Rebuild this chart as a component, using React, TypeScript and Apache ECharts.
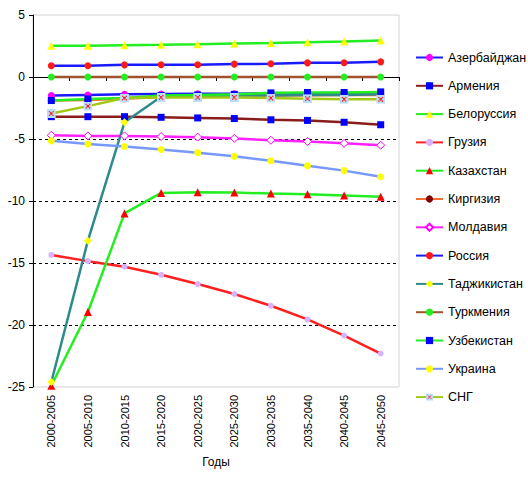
import React, { useEffect, useRef } from "react";
import * as echarts from "echarts";

const categories = [
  "2000-2005", "2005-2010", "2010-2015", "2015-2020", "2020-2025",
  "2025-2030", "2030-2035", "2035-2040", "2040-2045", "2045-2050",
];
const yTicks = { min: -25, max: 5, interval: 5 };

const azerbaijan = [-1.5, -1.45, -1.4, -1.37, -1.35, -1.35, -1.33, -1.32, -1.3, -1.3];
const armenia = [-3.2, -3.2, -3.2, -3.25, -3.3, -3.35, -3.45, -3.5, -3.65, -3.85];
const belarus = [2.52, 2.52, 2.57, 2.6, 2.64, 2.7, 2.74, 2.8, 2.87, 2.95];
const georgia = [-14.35, -14.85, -15.3, -15.95, -16.7, -17.5, -18.45, -19.55, -20.85, -22.3];
const kazakhstan = [-24.9, -18.95, -11.0, -9.35, -9.3, -9.32, -9.4, -9.45, -9.55, -9.65];
const kyrgyzstan = [-1.9, -1.85, -1.75, -1.6, -1.55, -1.5, -1.5, -1.48, -1.45, -1.45];
const moldova = [-4.7, -4.75, -4.75, -4.8, -4.85, -4.95, -5.1, -5.2, -5.35, -5.5];
const russia = [0.91, 0.91, 0.98, 0.99, 0.99, 1.04, 1.07, 1.14, 1.15, 1.22];
const tajikistan = [-24.6, -13.2, -3.65, -1.6, -1.55, -1.5, -1.5, -1.45, -1.45, -1.4];
const turkmenistan = [0, 0, 0, 0, 0, 0, 0, 0, 0, 0];
const uzbekistan = [-1.9, -1.77, -1.7, -1.5, -1.45, -1.4, -1.28, -1.25, -1.25, -1.2];
const ukraine = [-5.15, -5.4, -5.6, -5.85, -6.1, -6.4, -6.75, -7.15, -7.55, -8.05];
const cis = [-2.95, -2.35, -1.7, -1.65, -1.65, -1.65, -1.7, -1.75, -1.8, -1.8];

const FONT = '"Liberation Sans", Arial, sans-serif';

const cisSvg =
  "<svg xmlns='http://www.w3.org/2000/svg' width='16' height='16' viewBox='0 0 16 16'>" +
  "<rect x='0' y='0' width='16' height='16' fill='#BBDDF5'/>" +
  "<path d='M4 4L12 12M12 4L4 12' stroke='#FF0000' stroke-width='2.2' stroke-dasharray='2 1'/></svg>";
const cisSymbol = "image://data:image/svg+xml;charset=utf-8," + encodeURIComponent(cisSvg);

type S = {
  name: string;
  data: number[];
  line: string;
  symbol: string;
  size: number;
  fill: string;
  border?: string;
};

const seriesDefs: S[] = [
  { name: "Азербайджан", data: azerbaijan, line: "#1A1AFF", symbol: "circle", size: 7, fill: "#FF00FF" },
  { name: "Армения", data: armenia, line: "#8B1C1C", symbol: "rect", size: 7, fill: "#0000FF" },
  { name: "Белоруссия", data: belarus, line: "#22EE22", symbol: "triangle", size: 8, fill: "#FFFF00" },
  { name: "Грузия", data: georgia, line: "#FF2020", symbol: "circle", size: 6, fill: "#D9B3FF" },
  { name: "Казахстан", data: kazakhstan, line: "#22EE22", symbol: "triangle", size: 8, fill: "#FF0000" },
  { name: "Киргизия", data: kyrgyzstan, line: "#F07028", symbol: "circle", size: 7, fill: "#800000" },
  { name: "Молдавия", data: moldova, line: "#FF22FF", symbol: "diamond", size: 8, fill: "#FFFFFF", border: "#FF00FF" },
  { name: "Россия", data: russia, line: "#1A1AFF", symbol: "circle", size: 7, fill: "#FF1A1A" },
  { name: "Таджикистан", data: tajikistan, line: "#2E8B8B", symbol: "diamond", size: 8, fill: "#FFFF00" },
  { name: "Туркмения", data: turkmenistan, line: "#A0522D", symbol: "circle", size: 7, fill: "#22EE22" },
  { name: "Узбекистан", data: uzbekistan, line: "#22EE22", symbol: "rect", size: 7, fill: "#0000FF" },
  { name: "Украина", data: ukraine, line: "#7799FF", symbol: "circle", size: 7, fill: "#FFFF00" },
  { name: "СНГ", data: cis, line: "#A2C814", symbol: cisSymbol, size: 9, fill: "#BBDDF5" },
];

export default function App() {
  const ref = useRef<HTMLDivElement>(null);
  useEffect(() => {
    if (!ref.current) return;
    const chart = echarts.init(ref.current, null, { renderer: "svg" });
    const series = seriesDefs.map((s) => ({
      name: s.name,
      type: "line",
      data: s.data,
      symbol: s.symbol,
      symbolSize: s.size,
      showAllSymbol: true,
      lineStyle: { color: s.line, width: 2.5 },
      itemStyle: s.border
        ? { color: s.fill, borderColor: s.border, borderWidth: 1 }
        : { color: s.fill, borderWidth: 0 },
      emphasis: { disabled: true },
    }));
    chart.setOption({
      animation: false,
      backgroundColor: "#FFFFFF",
      textStyle: { fontFamily: FONT },
      grid: {
        left: 33,
        top: 15,
        right: 129,
        bottom: 95,
        show: true,
        borderColor: "#D4D4D4",
        borderWidth: 1,
        backgroundColor: "transparent",
      },
      legend: {
        orient: "vertical",
        left: 410,
        top: 46,
        itemWidth: 27,
        itemHeight: 9,
        itemGap: 15.3,
        textStyle: { fontFamily: FONT, fontSize: 12.5, color: "#000" },
        data: seriesDefs.map((s) => s.name),
      },
      xAxis: {
        type: "category",
        data: categories,
        boundaryGap: true,
        name: "Годы",
        nameLocation: "middle",
        nameGap: 58,
        nameTextStyle: { fontFamily: FONT, fontSize: 12, color: "#000" },
        axisLine: { lineStyle: { color: "#000", width: 1 } },
        axisTick: { show: true, length: 4, lineStyle: { color: "#000" } },
        axisLabel: {
          rotate: 90,
          margin: 8,
          interval: 0,
          fontFamily: FONT,
          fontSize: 11,
          color: "#000",
        },
        splitLine: { show: false },
      },
      yAxis: {
        type: "value",
        min: yTicks.min,
        max: yTicks.max,
        interval: yTicks.interval,
        axisLine: { show: true, lineStyle: { color: "#000", width: 1 } },
        axisTick: { show: true, length: 4, lineStyle: { color: "#000" } },
        axisLabel: { margin: 8, fontFamily: FONT, fontSize: 12, color: "#000" },
        splitLine: {
          show: true,
          lineStyle: {
            color: ["transparent", "#000", "#000", "#000", "#000", "#000", "transparent"],
            type: [3, 3],
            width: 1,
          },
        },
      },
      series,
    });
    return () => chart.dispose();
  }, []);
  return (
    <div
      ref={ref}
      style={{ position: "fixed", left: 0, top: 0, width: 528, height: 482, background: "#fff" }}
    />
  );
}
